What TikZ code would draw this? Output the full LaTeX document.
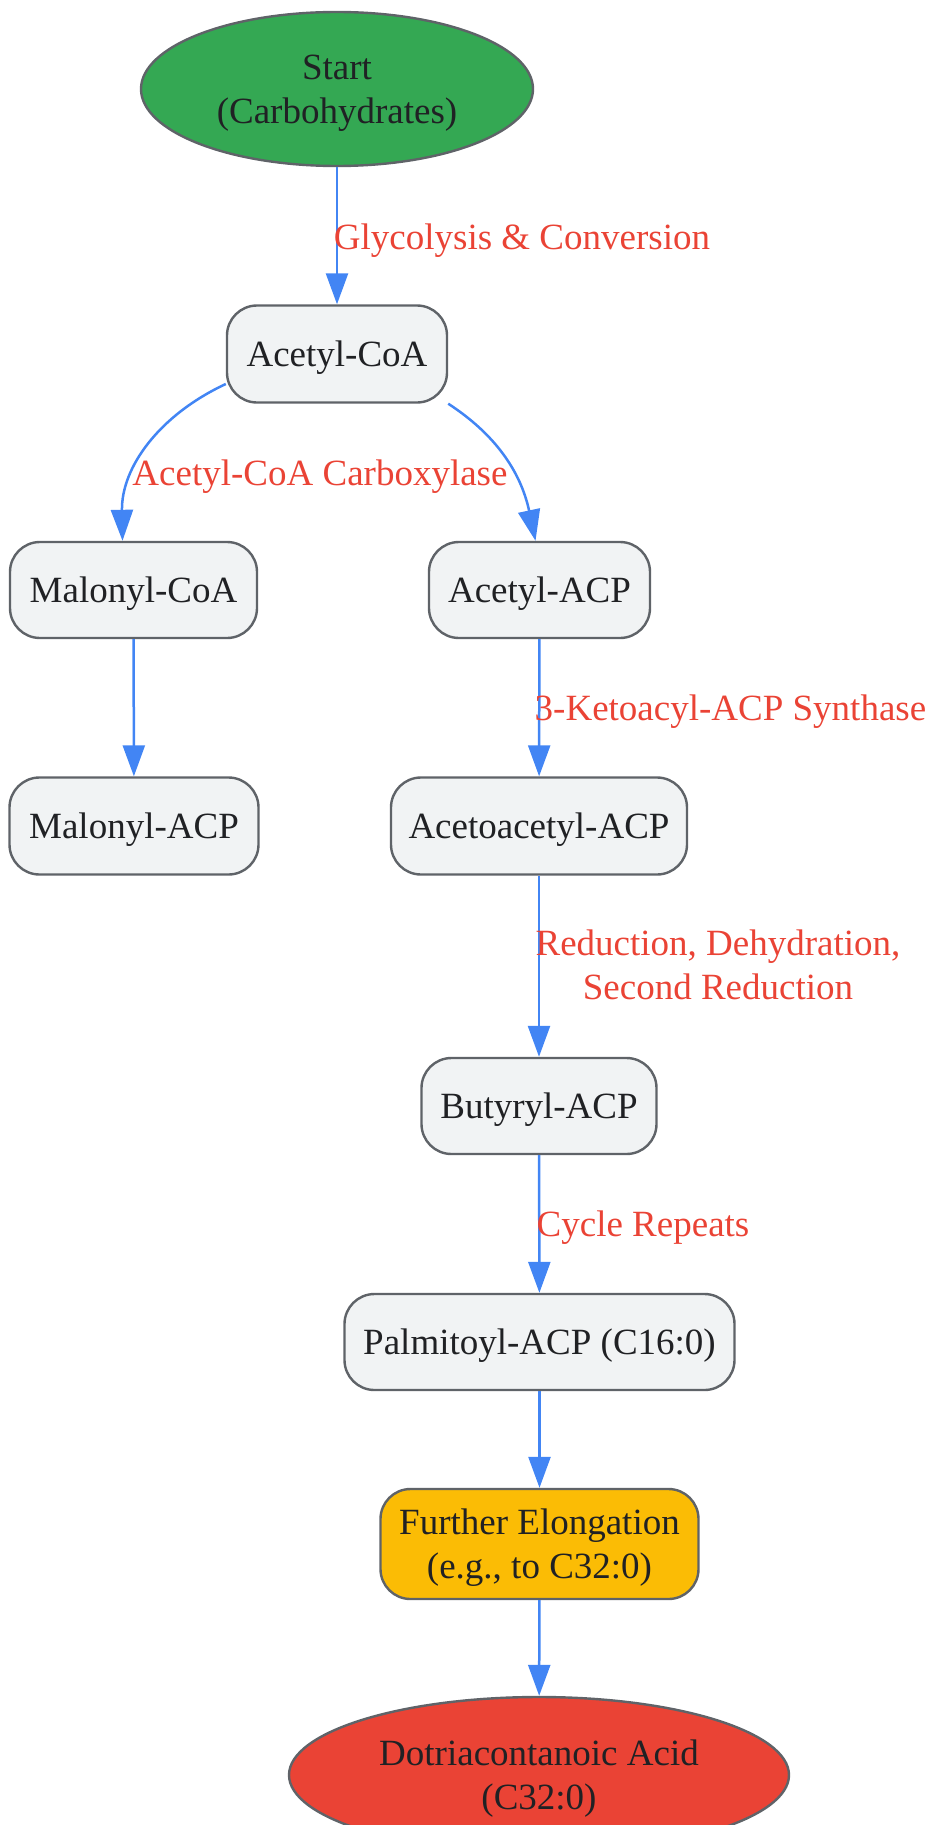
\documentclass[tikz,border=0pt]{standalone}
\usepackage{fontspec}
\setmainfont{Liberation Serif}
\usetikzlibrary{shapes.geometric,arrows.meta}
\definecolor{edgeblue}{HTML}{4285F4}
\definecolor{bordergray}{HTML}{5F6368}
\definecolor{boxfill}{HTML}{F1F3F4}
\definecolor{textdark}{HTML}{202124}
\definecolor{lblred}{HTML}{EA4335}
\definecolor{startgreen}{HTML}{34A853}
\definecolor{endred}{HTML}{EA4335}
\definecolor{elongyellow}{HTML}{FBBC05}
\begin{document}
\begin{tikzpicture}[x=1pt,y=-1pt,
  txt/.style={font=\fontsize{37}{44}\selectfont, align=center},
  oneline/.style={text height=33pt, text depth=8pt},
  twoline/.style={text height=77pt, text depth=8pt},
  box/.style={txt, oneline, draw=bordergray, line width=2.4pt, fill=boxfill, rounded corners=30pt, inner sep=0pt, text=textdark},
  oval/.style={txt, twoline, ellipse, draw=bordergray, line width=2.4pt, inner sep=0pt, text=textdark},
  lbl/.style={txt, oneline, text=lblred, inner sep=0pt},
  edge/.style={draw=edgeblue, line width=2.5pt, -{Triangle[length=31pt,width=22pt]}}
]
\useasboundingbox (0,0) rectangle (929,1825);

\node[oval, fill=startgreen, minimum width=392pt, minimum height=154pt] (start) at (337,89) {Start\\(Carbohydrates)};
\node[box, minimum width=220pt, minimum height=97pt] (acoa) at (337,354) {Acetyl-CoA};
\node[box, minimum width=247pt, minimum height=96pt] (mcoa) at (133.5,590) {Malonyl-CoA};
\node[box, minimum width=221pt, minimum height=96pt] (aacp) at (539.5,590) {Acetyl-ACP};
\node[box, minimum width=249pt, minimum height=97pt] (macp) at (134,826) {Malonyl-ACP};
\node[box, minimum width=296pt, minimum height=97pt] (acac) at (539,826) {Acetoacetyl-ACP};
\node[box, minimum width=235pt, minimum height=96pt] (bacp) at (539,1106) {Butyryl-ACP};
\node[box, minimum width=390pt, minimum height=96pt] (pacp) at (539.5,1342) {Palmitoyl-ACP (C16:0)};
\node[box, twoline, fill=elongyellow, minimum width=318pt, minimum height=110pt] (fel) at (539.5,1544) {Further Elongation\\(e.g., to C32:0)};
\node[oval, fill=endred, minimum width=500pt, minimum height=156pt] (dot) at (539,1775) {Dotriacontanoic Acid\\(C32:0)};

\draw[edge] (start) -- (acoa);
\draw[edge] ([yshift=-30pt]acoa.west) to[out=205,in=91] ([xshift=-11pt]mcoa.north);
\draw[edge] (acoa.south east) to[out=-33,in=102] ([xshift=-4pt]aacp.north);
\draw[edge] (mcoa) -- (macp);
\draw[edge] (aacp) -- (acac);
\draw[edge] (acac) -- (bacp);
\draw[edge] (bacp) -- (pacp);
\draw[edge] (pacp) -- (fel);
\draw[edge] (fel) -- (dot);

\node[lbl] (l1) at (522,237) {Glycolysis \& Conversion};
\node[lbl] (l2) at (320,473) {Acetyl-CoA Carboxylase};
\node[lbl] (l3) at (730.5,708) {3-Ketoacyl-ACP Synthase};
\node[lbl, twoline] (l4) at (718,965) {Reduction, Dehydration,\\Second Reduction};
\node[lbl] (l5) at (643,1224) {Cycle Repeats};
\end{tikzpicture}
\end{document}
